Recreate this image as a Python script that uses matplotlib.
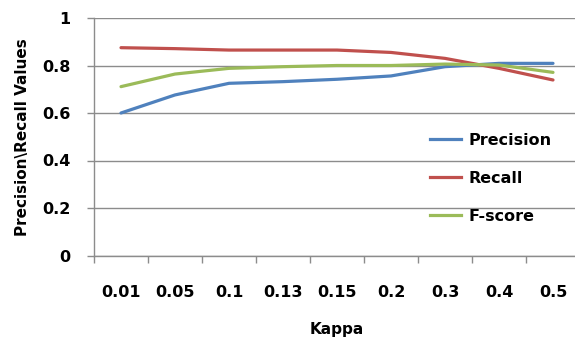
import matplotlib.pyplot as plt
from matplotlib.lines import Line2D

kappa = ['0.01', '0.05', '0.1', '0.13', '0.15', '0.2', '0.3', '0.4', '0.5']
precision = [0.600, 0.676, 0.725, 0.732, 0.742, 0.756, 0.795, 0.809, 0.809]
recall = [0.875, 0.871, 0.865, 0.865, 0.865, 0.855, 0.830, 0.788, 0.739]
fscore = [0.711, 0.764, 0.788, 0.795, 0.800, 0.800, 0.806, 0.802, 0.771]

series = [('Precision', precision, '#4F81BD'),
          ('Recall', recall, '#C0504D'),
          ('F-score', fscore, '#9BBB59')]

plt.rcParams['font.family'] = ['DejaVu Sans']
plt.rcParams['font.weight'] = 'bold'

fig = plt.figure(figsize=(5.75, 3.41), dpi=100)
ax = fig.add_axes([94 / 575, 85.5 / 341, 486 / 575, 237.5 / 341])

x = range(len(kappa))
for name, vals, color in series:
    ax.plot(x, vals, color=color, lw=2.3, solid_capstyle='round', label=name)

ax.set_xlim(-0.5, len(kappa) - 0.5)
ax.set_ylim(0, 1)
ax.set_yticks([0, 0.2, 0.4, 0.6, 0.8, 1.0])
ax.set_yticklabels(['0', '0.2', '0.4', '0.6', '0.8', '1'])
ax.yaxis.grid(True, color='#8c8c8c', lw=1)
ax.set_axisbelow(True)

# category boundaries get the tick marks, labels sit at the centres
ax.set_xticks([i - 0.5 for i in range(len(kappa) + 1)])
ax.set_xticklabels([])
ax.set_xticks(list(x), minor=True)
ax.set_xticklabels(kappa, minor=True)
ax.tick_params(axis='x', which='major', length=5, color='#8c8c8c', width=1)
ax.tick_params(axis='x', which='minor', length=0, pad=21, labelsize=11.5)
ax.tick_params(axis='y', length=5, color='#8c8c8c', width=1, pad=12, labelsize=11.5)

for side in ['top', 'right']:
    ax.spines[side].set_visible(False)
for side in ['left', 'bottom']:
    ax.spines[side].set_color('#8c8c8c')
    ax.spines[side].set_linewidth(1)

ax.set_xlabel('Kappa', fontsize=11, fontweight='bold', labelpad=16)
ax.set_ylabel('Precision\\Recall Values', fontsize=11, fontweight='bold', labelpad=9)

handles = [Line2D([], [], color=c, lw=2.3) for _, _, c in series]
ax.legend(handles, [s[0] for s in series], loc='upper left',
          bbox_to_anchor=(0.691, 0.517), frameon=False, fontsize=11.5,
          borderpad=0, borderaxespad=0,
          handlelength=1.95, handletextpad=0.5, labelspacing=1.45)

fig.savefig('out.png', dpi=100)
